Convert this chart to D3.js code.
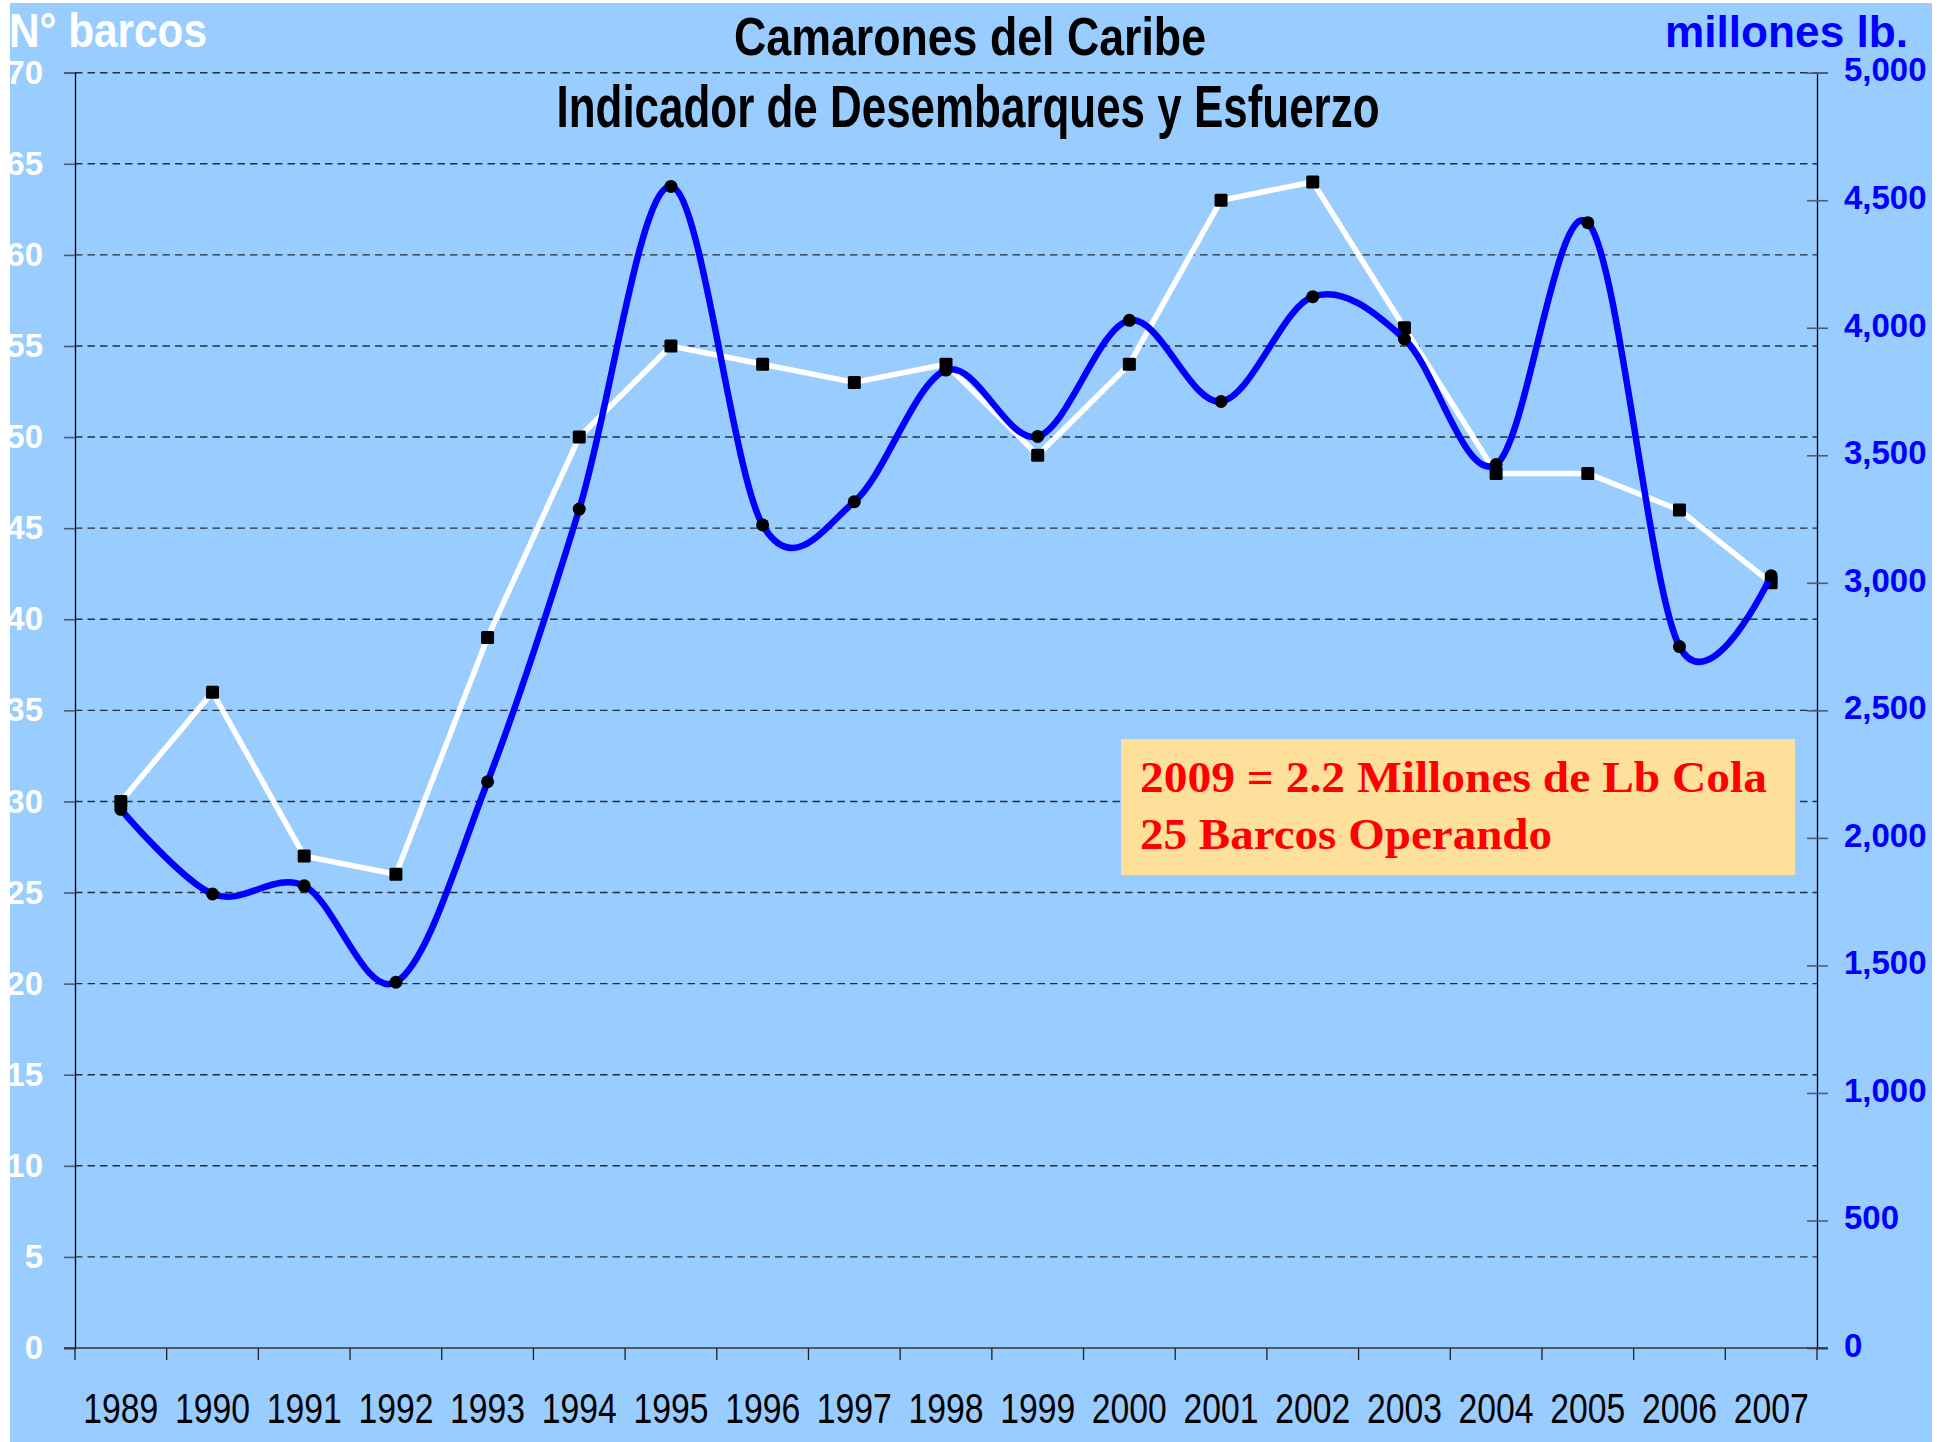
<!DOCTYPE html>
<html>
<head>
<meta charset="utf-8">
<script src="https://cdn.jsdelivr.net/npm/d3@7"></script>
<style>
  body { margin: 0; background: #fff; }
  svg { display: block; }
</style>
</head>
<body>
<div id="chart"></div>
<script>
// data
const years = ["1989","1990","1991","1992","1993","1994","1995","1996","1997","1998",
               "1999","2000","2001","2002","2003","2004","2005","2006","2007"];
// N° barcos (left axis, white line)
const barcos = [30, 36, 27, 26, 39, 50, 55, 54, 53, 54, 49, 54, 63, 64, 56, 48, 48, 46, 42];
// desembarques (right axis, blue line)
const desembarques = [2112, 1780, 1812, 1434, 2220, 3289, 4554, 3227, 3318, 3834,
                      3574, 4029, 3711, 4122, 3956, 3464, 4412, 2750, 3028];
const leftTicks = [0, 5, 10, 15, 20, 25, 30, 35, 40, 45, 50, 55, 60, 65, 70];
const rightTicks = [0, 500, 1000, 1500, 2000, 2500, 3000, 3500, 4000, 4500, 5000];
const titleLines = ["Camarones del Caribe", "Indicador de Desembarques y Esfuerzo"];
const noteLines = ["2009 = 2.2 Millones de Lb Cola", "25 Barcos Operando"];

const NARROW = "'Liberation Sans Narrow', 'Arial Narrow', 'Liberation Sans', Arial, sans-serif";
const ARIAL = "'Liberation Sans', Arial, sans-serif";

// squeeze a text to a given width (original uses condensed type)
function fit(sel, w) {
    sel.attr("textLength", w).attr("lengthAdjust", "spacingAndGlyphs");
}

function main() {
    const W = 1955, H = 1442;
    const plot = {left: 75, right: 1817, top: 72.7, bottom: 1348};

    const svg = d3.select("#chart").append("svg")
        .attr("width", W)
        .attr("height", H);

    // light blue background
    svg.append("rect")
        .attr("x", 10).attr("y", 3)
        .attr("width", 1922).attr("height", H - 3)
        .attr("fill", "#99CCFF");

    const xScale = d3.scaleBand()
        .domain(years)
        .range([plot.left, plot.right])
        .padding(0);
    const xc = d => xScale(d) + xScale.bandwidth() / 2;

    const yLeft = d3.scaleLinear().domain([0, 70]).range([plot.bottom, plot.top]);
    const yRight = d3.scaleLinear().domain([0, 5000]).range([plot.bottom, plot.top]);

    // dashed gridlines
    svg.append("g").selectAll("line")
        .data(leftTicks.filter(d => d > 0))
        .enter().append("line")
        .attr("x1", plot.left).attr("x2", plot.right)
        .attr("y1", d => yLeft(d)).attr("y2", d => yLeft(d))
        .attr("stroke", "#26303c")
        .attr("stroke-width", 1.4)
        .attr("stroke-dasharray", "7.5,5");

    // left axis
    const gl = svg.append("g")
        .attr("transform", `translate(${plot.left},0)`)
        .call(d3.axisLeft(yLeft).tickValues(leftTicks).tickSize(11).tickPadding(21));
    gl.select(".domain").attr("stroke", "#000").attr("stroke-width", 1.3);
    gl.selectAll(".tick line").attr("stroke", "#4d5d70").attr("stroke-width", 1.6);
    gl.selectAll("text")
        .style("font-family", ARIAL)
        .style("font-weight", "bold")
        .style("font-size", "33px")
        .attr("fill", "#fff");

    // right axis
    const gr = svg.append("g")
        .attr("transform", `translate(${plot.right},0)`)
        .call(d3.axisRight(yRight).tickValues(rightTicks).tickSize(11).tickPadding(16)
            .tickFormat(d3.format(",")));
    gr.select(".domain").attr("stroke", "#000").attr("stroke-width", 1.3);
    gr.selectAll(".tick line").attr("x1", -10).attr("stroke", "#4d5d70").attr("stroke-width", 1.6);
    gr.selectAll("text")
        .style("font-family", ARIAL)
        .style("font-weight", "bold")
        .style("font-size", "33px")
        .attr("fill", "#0000FF")
        .attr("dy", "0.25em");

    // bottom axis, labels in the middle of each year
    const gb = svg.append("g")
        .attr("transform", `translate(0,${plot.bottom})`)
        .call(d3.axisBottom(xScale).tickSize(0).tickPadding(45));
    gb.select(".domain").remove();
    gb.selectAll("text")
        .style("font-family", NARROW)
        .style("font-size", "42px")
        .attr("fill", "#000")
        .call(fit, 75);
    // axis line + ticks between years
    gb.append("line")
        .attr("x1", plot.left - 11).attr("x2", plot.right + 11)
        .attr("stroke", "#333").attr("stroke-width", 1.6);
    gb.selectAll(".sep")
        .data(years.concat(["end"]))
        .enter().append("line")
        .attr("class", "sep")
        .attr("x1", d => d === "end" ? plot.right : xScale(d))
        .attr("x2", d => d === "end" ? plot.right : xScale(d))
        .attr("y1", 0).attr("y2", 12)
        .attr("stroke", "#222").attr("stroke-width", 1.3);

    // white line: barcos
    const lineBarcos = d3.line()
        .x((d, i) => xc(years[i]))
        .y(d => yLeft(d));
    svg.append("path")
        .datum(barcos)
        .attr("d", lineBarcos)
        .attr("fill", "none")
        .attr("stroke", "#fff")
        .attr("stroke-width", 5.5)
        .attr("stroke-linejoin", "round");
    svg.append("g").selectAll("rect")
        .data(barcos)
        .enter().append("rect")
        .attr("x", (d, i) => xc(years[i]) - 6.5)
        .attr("y", d => yLeft(d) - 6.5)
        .attr("width", 13).attr("height", 13)
        .attr("rx", 1.5)
        .attr("fill", "#000");

    // blue line: desembarques (smoothed like Excel)
    const lineDes = d3.line()
        .x((d, i) => xc(years[i]))
        .y(d => yRight(d))
        .curve(d3.curveCardinal.tension(0));
    svg.append("path")
        .datum(desembarques)
        .attr("d", lineDes)
        .attr("fill", "none")
        .attr("stroke", "#0000FF")
        .attr("stroke-width", 6.5)
        .attr("stroke-linejoin", "round")
        .attr("stroke-linecap", "round");
    svg.append("g").selectAll("circle")
        .data(desembarques)
        .enter().append("circle")
        .attr("cx", (d, i) => xc(years[i]))
        .attr("cy", d => yRight(d))
        .attr("r", 6.5)
        .attr("fill", "#000");

    // titles
    svg.append("text")
        .attr("x", 970).attr("y", 55)
        .attr("text-anchor", "middle")
        .style("font-family", NARROW).style("font-weight", "bold").style("font-size", "54px")
        .text(titleLines[0])
        .call(fit, 472);
    svg.append("text")
        .attr("x", 968).attr("y", 127)
        .attr("text-anchor", "middle")
        .style("font-family", NARROW).style("font-weight", "bold").style("font-size", "59px")
        .text(titleLines[1])
        .call(fit, 823);

    // axis titles
    svg.append("text")
        .attr("x", 9).attr("y", 47)
        .style("font-family", NARROW).style("font-weight", "bold").style("font-size", "48px")
        .attr("fill", "#fff")
        .text("N° barcos")
        .call(fit, 198);
    svg.append("text")
        .attr("x", 1665).attr("y", 47)
        .style("font-family", NARROW).style("font-weight", "bold").style("font-size", "44px")
        .attr("fill", "#0000FF")
        .text("millones lb.")
        .call(fit, 243);

    // note box
    svg.append("rect")
        .attr("x", 1121).attr("y", 739)
        .attr("width", 674).attr("height", 136)
        .attr("fill", "#FFE09B");
    svg.append("text")
        .attr("x", 1140).attr("y", 792)
        .style("font-family", "'Liberation Serif', 'Times New Roman', serif")
        .style("font-weight", "bold").style("font-size", "45px")
        .attr("fill", "#FF0000")
        .text(noteLines[0])
        .call(fit, 627);
    svg.append("text")
        .attr("x", 1140).attr("y", 849)
        .style("font-family", "'Liberation Serif', 'Times New Roman', serif")
        .style("font-weight", "bold").style("font-size", "45px")
        .attr("fill", "#FF0000")
        .text(noteLines[1])
        .call(fit, 412);

    // white page edge on the left cuts the labels like in the original
    svg.append("rect").attr("x", 0).attr("y", 0).attr("width", 10).attr("height", H).attr("fill", "#fff");
}

main();
</script>
</body>
</html>
